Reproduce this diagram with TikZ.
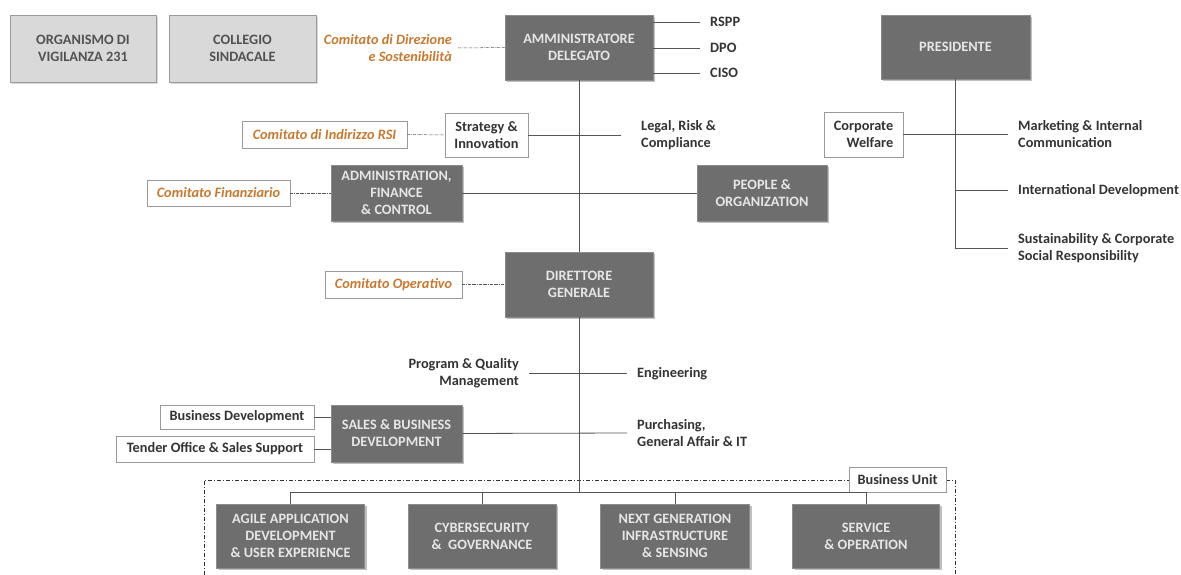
\documentclass[tikz,border=0pt]{standalone}
\usepackage{fontspec}
\setmainfont{Carlito}
\usetikzlibrary{shadows}
\definecolor{dkfill}{HTML}{6E6E6E}
\definecolor{dkline}{HTML}{8C8C8C}
\definecolor{dktext}{HTML}{E6E6E6}
\definecolor{ltfill}{HTML}{D9D9D9}
\definecolor{ltline}{HTML}{9A9A9A}
\definecolor{txt}{HTML}{333333}
\definecolor{orng}{HTML}{C8792F}
\definecolor{wire}{HTML}{555555}
\begin{document}
\begin{tikzpicture}[x=1pt,y=-1pt,
  basefont/.style={font=\bfseries\fontsize{14.3}{17}\selectfont},
  darkbox/.style={basefont, fill=dkfill, draw=dkline, line width=0.8pt, text=dktext, align=center, inner sep=0pt,
    drop shadow={shadow xshift=2pt, shadow yshift=-2pt, fill=black!25, opacity=1}},
  lightbox/.style={basefont, fill=ltfill, draw=ltline, line width=0.8pt, text=txt!85, align=center, inner sep=0pt,
    drop shadow={shadow xshift=2pt, shadow yshift=-2pt, fill=black!15, opacity=1}},
  whitebox/.style={basefont, fill=white, draw=ltline, line width=0.8pt, text=txt, align=center, inner sep=0pt},
  orangetxt/.style={text=orng, font=\bfseries\itshape\fontsize{14.3}{17}\selectfont},
  lbl/.style={basefont, text=txt, inner sep=0pt},
  conn/.style={draw=wire, line width=0.8pt},
  dotline/.style={draw=wire, line width=0.5pt, densely dash dot},
  frame/.style={draw=txt, line width=1pt, dash pattern=on 4pt off 2pt on 1pt off 2pt}
]
\useasboundingbox (0,0) rectangle (1181,575);

% top row
\node[lightbox, minimum width=146pt, minimum height=67pt] (odv) at (83,48.5) {ORGANISMO DI\\VIGILANZA 231};
\node[lightbox, minimum width=147pt, minimum height=67pt] (cs) at (242.5,48.5) {COLLEGIO\\SINDACALE};
\node[lbl, orangetxt, anchor=east, align=right] (cds) at (452,48) {Comitato di Direzione\\e Sostenibilità};
\node[darkbox, minimum width=148pt, minimum height=65pt] (ad) at (579,47.5) {AMMINISTRATORE\\DELEGATO};
\draw[dotline] ([xshift=6pt]cds.east) -- (ad.west);

\node[lbl, anchor=west] (rspp) at (710,22) {RSPP};
\node[lbl, anchor=west] (dpo) at (710,48) {DPO};
\node[lbl, anchor=west] (ciso) at (710,73) {CISO};
\draw[conn] (ad.east |- rspp.west) -- ([xshift=-10pt]rspp.west);
\draw[conn] (ad.east |- dpo.west) -- ([xshift=-10pt]dpo.west);
\draw[conn] (ad.east |- ciso.west) -- ([xshift=-10pt]ciso.west);

% presidente
\node[darkbox, minimum width=149pt, minimum height=64pt] (pres) at (955.5,47) {PRESIDENTE};
\node[whitebox, align=right, minimum width=79pt, minimum height=45pt] (cw) at (863.5,134.5) {Corporate\\\hspace*{0pt}Welfare};
\node[lbl, anchor=west, align=left] (mic) at (1018,134.5) {Marketing \& Internal\\Communication};
\node[lbl, anchor=west] (intd) at (1018,190.5) {International Development};
\node[lbl, anchor=west, align=left] (scsr) at (1018,248.5) {Sustainability \& Corporate\\Social Responsibility};
\draw[conn] (pres.south) |- ([xshift=-10pt]scsr.west);
\draw[conn] (cw.east) -- ([xshift=-10pt]mic.west);
\draw[conn] (pres.south |- intd.west) -- ([xshift=-10pt]intd.west);

% staff of AD
\node[darkbox, minimum width=148pt, minimum height=65pt] (dg) at (579,284.5) {DIRETTORE\\GENERALE};
\draw[conn] (ad.south) -- (dg.north);

\node[whitebox, minimum width=83pt, minimum height=44pt] (si) at (486.5,135) {Strategy \&\\Innovation};
\node[lbl, anchor=west, align=left] (lrc) at (641,135) {Legal, Risk \&\\Compliance};
\draw[conn] (si.east) -- ([xshift=-20pt]lrc.west);
\node[whitebox, orangetxt, minimum width=165pt, minimum height=27pt] (rsi) at (324.5,134.5) {Comitato di Indirizzo RSI};
\draw[dotline] (rsi.east) -- (si.west);

\node[darkbox, minimum width=131pt, minimum height=56pt] (afc) at (396.5,193) {ADMINISTRATION,\\FINANCE\\\& CONTROL};
\node[whitebox, orangetxt, minimum width=143pt, minimum height=26pt] (cf) at (218.5,193) {Comitato Finanziario};
\node[darkbox, minimum width=130pt, minimum height=56pt] (po) at (762,193) {PEOPLE \&\\ORGANIZATION};
\draw[dotline] (cf.east) -- (afc.west);
\draw[conn] (afc.east) -- (po.west);

% DG level
\node[whitebox, orangetxt, minimum width=137pt, minimum height=27pt] (co) at (393.5,284.5) {Comitato Operativo};
\draw[dotline] (co.east) -- (dg.west);

\node[lbl, anchor=east, align=right] (pqm) at (519,373.5) {Program \& Quality\\Management};
\node[lbl, anchor=west] (eng) at (637,373.5) {Engineering};
\draw[conn] ([xshift=10pt]pqm.east) -- ([xshift=-10pt]eng.west);

\node[darkbox, minimum width=131pt, minimum height=57pt] (sbd) at (396.5,433.5) {SALES \& BUSINESS\\DEVELOPMENT};
\node[lbl, anchor=west, align=left] (pur) at (637,433) {Purchasing,\\General Affair \& IT};
\draw[conn] (sbd.east) -- ([xshift=-10pt]pur.west);
\node[whitebox, minimum width=154pt, minimum height=24pt] (bd) at (237,417) {Business Development};
\node[whitebox, minimum width=198pt, minimum height=26pt] (tos) at (215,449) {Tender Office \& Sales Support};
\draw[conn] (bd.east) -- (bd.east -| sbd.west);
\draw[conn] (tos.east) -- (tos.east -| sbd.west);

% business units
\coordinate (hub) at (579,492);
\draw[frame] (204,575) -- (204,480) -- (955,480) -- (955,575);
\node[whitebox, minimum width=97pt, minimum height=25pt] (bu) at (897.5,480) {Business Unit};

\node[darkbox, minimum width=148pt, minimum height=64pt] (bu1) at (290.5,536) {AGILE APPLICATION\\DEVELOPMENT\\\& USER EXPERIENCE};
\node[darkbox, minimum width=148pt, minimum height=64pt] (bu2) at (482,536) {CYBERSECURITY\\\&~~GOVERNANCE};
\node[darkbox, minimum width=149pt, minimum height=64pt] (bu3) at (675,536) {NEXT GENERATION\\INFRASTRUCTURE\\\& SENSING};
\node[darkbox, minimum width=147pt, minimum height=64pt] (bu4) at (866,536) {SERVICE\\\& OPERATION};

\draw[conn] (dg.south) -- (hub);
\draw[conn] (bu1.north) -- (bu1.north |- hub) -- (bu4.north |- hub) -- (bu4.north);
\draw[conn] (bu2.north) -- (bu2.north |- hub);
\draw[conn] (bu3.north) -- (bu3.north |- hub);
\end{tikzpicture}
\end{document}
